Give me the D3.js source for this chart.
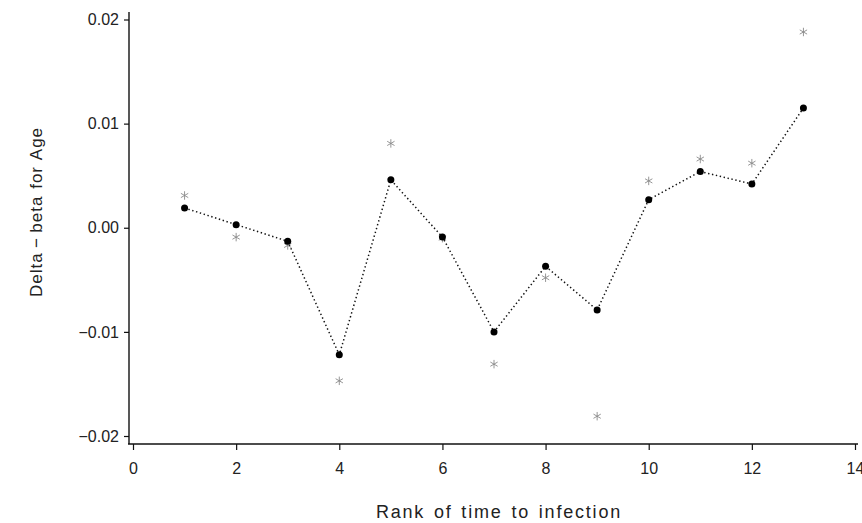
<!DOCTYPE html>
<html>
<head>
<meta charset="utf-8">
<script src="https://cdn.jsdelivr.net/npm/d3@7"></script>
<style>
  html, body { margin: 0; padding: 0; background: #fff; }
  svg { display: block; }
  text { font-family: "Liberation Sans", Arial, Helvetica, sans-serif; fill: #222; }
</style>
</head>
<body>
<svg id="chart" width="862" height="523"></svg>
<script>
// Rank of time to infection
const ranks = [1, 2, 3, 4, 5, 6, 7, 8, 9, 10, 11, 12, 13];
// Delta-beta for Age (filled dots, joined by a dotted line)
const deltaBeta = [0.0019, 0.0003, -0.0013, -0.0122, 0.0046, -0.0009, -0.0100, -0.0037, -0.0079, 0.0027, 0.0054, 0.0042, 0.0115];
// Comparison values (asterisks)
const deltaBetaAlt = [0.0031, -0.0009, -0.0017, -0.0147, 0.0081, -0.0010, -0.0131, -0.0048, -0.0181, 0.0045, 0.0066, 0.0062, 0.0188];
// Axis ticks
const xTicks = [0, 2, 4, 6, 8, 10, 12, 14];
const yTicks = [-0.02, -0.01, 0.00, 0.01, 0.02];
const yTickLabels = ["\u22120.02", "\u22120.01", "0.00", "0.01", "0.02"];

const svg = d3.select("#chart");

const x = d3.scaleLinear().domain([0, 14]).range([133, 855]);
const y = d3.scaleLinear().domain([-0.02, 0.02]).range([436, 19.5]);

const axisX = 129;   // position of the vertical axis line
const axisY = 444;   // position of the horizontal axis line

// Axis lines
svg.append("line")
  .attr("x1", axisX).attr("x2", axisX)
  .attr("y1", 12).attr("y2", axisY)
  .attr("stroke", "#111").attr("stroke-width", 1.4);
svg.append("line")
  .attr("x1", axisX - 1).attr("x2", 858)
  .attr("y1", axisY).attr("y2", axisY)
  .attr("stroke", "#111").attr("stroke-width", 1.4);

// Y axis ticks and labels
const yAxis = d3.axisLeft(y)
  .tickValues(yTicks)
  .tickSize(5)
  .tickPadding(5)
  .tickFormat((d, i) => yTickLabels[i]);
const gy = svg.append("g").attr("transform", `translate(${axisX},0)`).call(yAxis);
gy.select(".domain").remove();
gy.selectAll(".tick line").attr("stroke", "#111").attr("stroke-width", 1.2);
gy.selectAll(".tick text")
  .attr("font-size", 16)
  .attr("font-family", "Liberation Sans, Arial, sans-serif")
  .attr("fill", "#222");

// X axis ticks and labels
const xAxis = d3.axisBottom(x)
  .tickValues(xTicks)
  .tickSize(6)
  .tickPadding(13)
  .tickFormat(d3.format("d"));
const gx = svg.append("g").attr("transform", `translate(0,${axisY})`).call(xAxis);
gx.select(".domain").remove();
gx.selectAll(".tick line").attr("stroke", "#111").attr("stroke-width", 1.2);
gx.selectAll(".tick text")
  .attr("font-size", 16)
  .attr("font-family", "Liberation Sans, Arial, sans-serif")
  .attr("fill", "#222");

// Axis titles
svg.append("text")
  .attr("x", 499).attr("y", 518)
  .attr("text-anchor", "middle")
  .attr("font-size", 18)
  .attr("letter-spacing", 1.8)
  .attr("word-spacing", 2)
  .text("Rank of time to infection");
svg.append("text")
  .attr("transform", "translate(42,212) rotate(-90)")
  .attr("text-anchor", "middle")
  .attr("font-size", 17)
  .attr("letter-spacing", 1)
  .attr("word-spacing", 1)
  .text("Delta\u2009\u2212\u2009beta for Age");

// Dotted connecting line
const line = d3.line()
  .x((d, i) => x(ranks[i]))
  .y(d => y(d));
svg.append("path")
  .datum(deltaBeta)
  .attr("d", line)
  .attr("fill", "none")
  .attr("stroke", "#111")
  .attr("stroke-width", 1.5)
  .attr("stroke-dasharray", "1.4,2.6");

// Asterisks
const star = d3.symbol().type(d3.symbolAsterisk).size(50);
svg.append("g").selectAll("path")
  .data(deltaBetaAlt)
  .join("path")
  .attr("d", star)
  .attr("transform", (d, i) => `translate(${x(ranks[i])},${y(d)})`)
  .attr("fill", "none")
  .attr("stroke", "#8a8a8a")
  .attr("stroke-width", 0.9);

// Filled dots
svg.append("g").selectAll("circle")
  .data(deltaBeta)
  .join("circle")
  .attr("cx", (d, i) => x(ranks[i]))
  .attr("cy", d => y(d))
  .attr("r", 3.5)
  .attr("fill", "#000");
</script>
</body>
</html>
